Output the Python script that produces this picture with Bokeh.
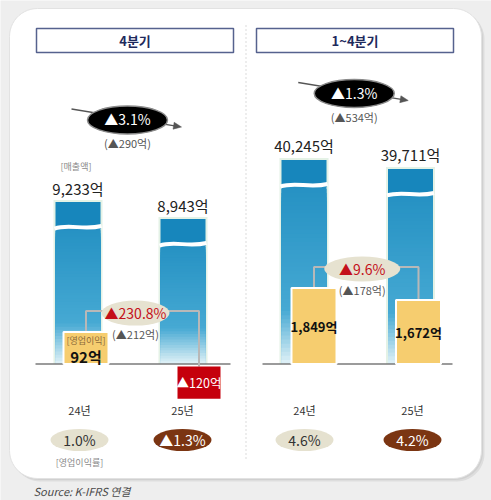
import numpy as np
from bokeh.plotting import figure
from bokeh.models import Range1d
from bokeh.core.properties import value
from bokeh.embed import file_html
from bokeh.resources import INLINE

# ---------------- data ----------------
panel_titles = ["4분기", "1~4분기"]
years = ["24년", "25년"]

q4_sales = [9233, 8943]
q4_sales_labels = ["9,233억", "8,943억"]
q4_sales_change = "▲3.1%"
q4_sales_change_amt = "(▲290억)"
q4_op = [92, -120]
q4_op_labels = ["92억", "▲120억"]
q4_op_change = "▲230.8%"
q4_op_change_amt = "(▲212억)"
q4_margin = ["1.0%", "▲1.3%"]

fy_sales = [40245, 39711]
fy_sales_labels = ["40,245억", "39,711억"]
fy_sales_change = "▲1.3%"
fy_sales_change_amt = "(▲534억)"
fy_op = [1849, 1672]
fy_op_labels = ["1,849억", "1,672억"]
fy_op_change = "▲9.6%"
fy_op_change_amt = "(▲178억)"
fy_margin = ["4.6%", "4.2%"]

sales_caption = "[매출액]"
op_caption = "[영업이익]"
margin_caption = "[영업이익률]"
source_text = "Source: K-IFRS 연결"

# ---------------- layout / style ----------------
FONT = value("Noto Sans CJK KR")
W, H = 491, 500
BASE = 363.5
BAR_W = 45

layout = [
    dict(title_cx=134.5, bar_x=[77.5, 182.5], base_x=(35, 230),
         sales_scale=(-379.1, 0.0586), op_scale=(31.0, 0.01), op_dx=[8, 16],
         badge_y=119.5, op_badge_w=68, margin_x=[79, 182]),
    dict(title_cx=354.5, bar_x=[303.5, 410], base_x=(262, 452),
         sales_scale=(-474.1, 0.01685), op_scale=(-49.4, 0.0678), op_dx=[10, 8],
         badge_y=93, op_badge_w=76, margin_x=[304, 412]),
]

panels = [
    dict(title=panel_titles[0], sales=q4_sales, sales_labels=q4_sales_labels,
         sales_change=q4_sales_change, sales_change_amt=q4_sales_change_amt,
         op=q4_op, op_labels=q4_op_labels, op_change=q4_op_change,
         op_change_amt=q4_op_change_amt, margin=q4_margin, captions=True),
    dict(title=panel_titles[1], sales=fy_sales, sales_labels=fy_sales_labels,
         sales_change=fy_sales_change, sales_change_amt=fy_sales_change_amt,
         op=fy_op, op_labels=fy_op_labels, op_change=fy_op_change,
         op_change_amt=fy_op_change_amt, margin=fy_margin, captions=False),
]


def mix(c0, c1, t):
    a = [int(c0[i:i + 2], 16) for i in (1, 3, 5)]
    b = [int(c1[i:i + 2], 16) for i in (1, 3, 5)]
    return "#%02x%02x%02x" % tuple(int(round(a[k] + (b[k] - a[k]) * t)) for k in range(3))


def rounded_rect(x0, y0, x1, y1, r, n=14):
    xs, ys = [], []
    corners = [(x1 - r, y0 + r, -90, 0), (x1 - r, y1 - r, 0, 90),
               (x0 + r, y1 - r, 90, 180), (x0 + r, y0 + r, 180, 270)]
    for cx, cy, a0, a1 in corners:
        for a in np.linspace(np.radians(a0), np.radians(a1), n):
            xs.append(cx + r * np.cos(a))
            ys.append(cy + r * np.sin(a))
    return xs, ys


def txt(p, x, y, s, size, color, style="normal", align="center"):
    p.text(x=[x], y=[y], text=[s], text_font=FONT, text_font_size=value(size),
           text_color=color, text_font_style=style, text_align=align,
           text_baseline="middle")


def arrow(p, x0, y0, x1, y1, color="#555555", head=8, half=3.5):
    d = np.array([x1 - x0, y1 - y0], dtype=float)
    d /= np.hypot(*d)
    nvec = np.array([-d[1], d[0]])
    e = np.array([x1, y1], dtype=float)
    b = e - head * d
    p.segment(x0=[x0], y0=[y0], x1=[b[0] + d[0]], y1=[b[1] + d[1]],
              line_color=color, line_width=1.3)
    p.patch([e[0], b[0] + half * nvec[0], b[0] - half * nvec[0]],
            [e[1], b[1] + half * nvec[1], b[1] - half * nvec[1]],
            fill_color=color, line_color=color, line_width=0.5)


p = figure(width=W, height=H, x_range=Range1d(0, W), y_range=Range1d(H, 0),
           output_backend="svg", toolbar_location=None, min_border=0,
           x_axis_type=None, y_axis_type=None)
p.grid.visible = False
p.outline_line_color = None
p.background_fill_color = "#eeeeee"
p.border_fill_color = "#eeeeee"

# panel with shadow
for off, col in [(3, "#dddddd"), (1.5, "#d0d0d0")]:
    xs, ys = rounded_rect(9 + off, 8 + off, 481 + off, 478 + off, 28)
    p.patch(xs, ys, fill_color=col, line_color=None)
xs, ys = rounded_rect(9, 8, 481, 478, 28)
p.patch(xs, ys, fill_color="white", line_color="#e2e2e2", line_width=1)

# separator
p.segment(x0=[245.5], y0=[25], x1=[245.5], y1=[458], line_color="#c4c4c4",
          line_width=1.2, line_dash="1 3")

for pan, lay in zip(panels, layout):
    bx = lay["bar_x"]
    mid = (bx[0] + bx[1]) / 2

    # title box
    p.rect(x=[lay["title_cx"]], y=[40], width=197, height=24, fill_color="white",
           line_color="#56628e", line_width=1.5)
    txt(p, lay["title_cx"], 40, pan["title"], "13px", "#1e2a5c", "bold")

    # sales bars
    a, k = lay["sales_scale"]
    tops = []
    for i, v in enumerate(pan["sales"]):
        top = BASE - (a + k * v)
        tops.append(top)
        x = bx[i]
        l, r = x - BAR_W / 2, x + BAR_W / 2
        p.quad(left=[l - 2], right=[r + 2], top=[top - 2], bottom=[BASE],
               fill_color="#e4f2e6", line_color=None)
        wave_y = top + 25
        p.quad(left=[l], right=[r], top=[top], bottom=[wave_y + 2],
               fill_color="#1786bc", line_color=None)
        n = 44
        edges = np.linspace(wave_y, BASE, n + 1)
        cols = []
        for j in range(n):
            t = (j + 0.5) / n
            if t < 0.7:
                cols.append(mix("#2591c3", "#46a9d3", t / 0.7))
            else:
                cols.append(mix("#46a9d3", "#e2f2f7", (t - 0.7) / 0.3))
        # each strip runs down to the base so later strips cover the seams
        p.quad(left=[l] * n, right=[r] * n, top=list(edges[:-1]),
               bottom=[BASE] * n, fill_color=cols, line_color=None)
        p.bezier(x0=[l - 1], y0=[wave_y + 1.5], x1=[r + 1], y1=[wave_y - 1],
                 cx0=[l + 14], cy0=[wave_y - 3.5], cx1=[l + 28], cy1=[wave_y + 3.5],
                 line_color="white", line_width=4)
        txt(p, x, top - 14, pan["sales_labels"][i], "15px", "#222222")

    if pan["captions"]:
        txt(p, bx[0] - 2, tops[0] - 36, sales_caption, "9px", "#8a8a8a")

    # sales change badge + arrow
    bxc, byc = mid - 3, lay["badge_y"]
    arrow(p, bxc - 56, byc - 11, bxc + 54, byc + 7)
    p.ellipse(x=[bxc], y=[byc], width=80, height=28, width_units="screen",
              height_units="screen", fill_color="black", line_color="#8a8a8a",
              line_width=1.5)
    txt(p, bxc, byc - 1, pan["sales_change"], "14px", "white")
    txt(p, bxc, byc + 23, pan["sales_change_amt"], "11px", "#555555")

    # baseline
    p.segment(x0=[lay["base_x"][0]], y0=[BASE], x1=[lay["base_x"][1]], y1=[BASE],
              line_color="#7a7a7a", line_width=1.5)

    # operating profit boxes
    oa, ok = lay["op_scale"]
    boxes = []
    for i, v in enumerate(pan["op"]):
        h = oa + ok * abs(v)
        ox = bx[i] + lay["op_dx"][i]
        if v >= 0:
            boxes.append((ox, BASE - h, BASE, True))
        else:
            boxes.append((ox, BASE + 2.5, BASE + 2.5 + h, False))
    conn_y = min(b[1] for b in boxes if b[3]) - 21
    p.line(x=[boxes[0][0], boxes[0][0], boxes[1][0], boxes[1][0]],
           y=[boxes[0][1], conn_y, conn_y, boxes[1][1]],
           line_color="#b8b8b8", line_width=2)
    for i, (ox, t, b, pos) in enumerate(boxes):
        if pos:
            p.quad(left=[ox - 22.5], right=[ox + 22.5], top=[t], bottom=[b],
                   fill_color="#f6cd6f", line_color="white", line_width=2)
        else:
            p.quad(left=[ox - 21.5], right=[ox + 21.5], top=[t], bottom=[b],
                   fill_color="#c5000c", line_color=None)
        if pos and pan["captions"] and i == 0:
            txt(p, ox, t + 8, op_caption, "9px", "#8c6a3a")
            txt(p, ox, t + 24, pan["op_labels"][i], "15px", "#111111", "bold")
        elif pos:
            txt(p, ox, (t + b) / 2, pan["op_labels"][i], "13px", "#111111", "bold")
        else:
            txt(p, ox, (t + b) / 2, pan["op_labels"][i], "12.5px", "white")

    # op change badge
    ocx = mid + 5
    p.ellipse(x=[ocx], y=[conn_y + 2], width=lay["op_badge_w"], height=25,
              width_units="screen", height_units="screen", fill_color="#e6e2d0",
              line_color=None)
    txt(p, ocx, conn_y + 2, pan["op_change"], "14px", "#c4101a")
    txt(p, ocx, conn_y + 23, pan["op_change_amt"], "11px", "#555555")

    # years and margins
    for i in range(2):
        mx = lay["margin_x"][i]
        txt(p, mx, 409, years[i], "11px", "#333333")
        fc = "#e5e1cf" if i == 0 else "#7b3512"
        tc = "#333333" if i == 0 else "white"
        p.ellipse(x=[mx], y=[439.5], width=58, height=22, width_units="screen",
                  height_units="screen", fill_color=fc, line_color=None)
        txt(p, mx, 439.5, pan["margin"][i], "14px", tc)
    if pan["captions"]:
        txt(p, lay["margin_x"][0], 462, margin_caption, "9px", "#8a8a8a")

txt(p, 33, 490, source_text, "11px", "#4a4a4a", "italic", "left")

open("out.html", "w").write(file_html(p, INLINE))
